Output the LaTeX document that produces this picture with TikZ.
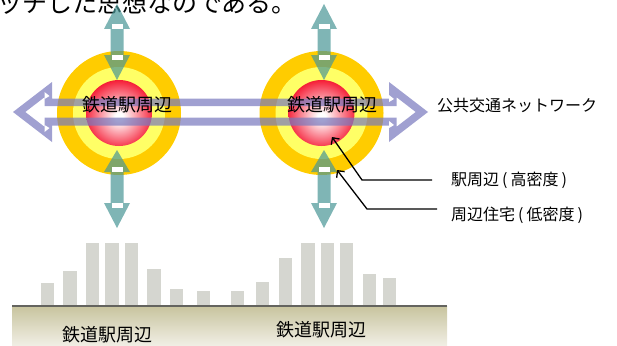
\documentclass[tikz,border=0pt]{standalone}
\usepackage{fontspec}
\newfontfamily\jp{Noto Sans CJK JP}
\usetikzlibrary{arrows.meta}
\definecolor{orangeC}{RGB}{255,204,0}
\definecolor{yellowC}{RGB}{255,255,102}
\definecolor{tealC}{RGB}{73,150,150}
\definecolor{lavC}{RGB}{120,120,189}
\definecolor{barC}{RGB}{213,214,208}
\definecolor{groundTop}{RGB}{200,196,158}
\definecolor{groundBot}{RGB}{240,238,228}
\definecolor{groundLine}{RGB}{100,100,95}
\definecolor{sred}{RGB}{245,25,50}
\definecolor{sredd}{RGB}{225,0,30}
\pgfdeclareradialshading{sphereshade}{\pgfpoint{0bp}{-3bp}}{color(0bp)=(white); color(3bp)=(white); color(27bp)=(sred); color(50bp)=(sredd)}
\newcommand{\myvarrow}[5]{%
  \fill[tealC, fill opacity=0.7] (#1,#2) -- (#1+13,#3) -- (#1+6.5,#3) -- (#1+6.5,#4) -- (#1+13,#4) -- (#1,#5) -- (#1-13,#4) -- (#1-6.5,#4) -- (#1-6.5,#3) -- (#1-13,#3) -- cycle;
  \fill[white] (#1-5.5,#3-5) rectangle (#1+5.5,#3);
  \fill[white] (#1-5.5,#4) rectangle (#1+5.5,#4+5);}
\newcommand{\pl}{\hspace{3pt}(\hspace{3pt}}
\newcommand{\pr}{\hspace{3pt})}
\tikzset{
  ring/.style={circle, inner sep=0, minimum size=#1},
  jlbl/.style={inner sep=0, font=\jp\fontsize{16}{18}\selectfont},
  clbl/.style={inner sep=0, font=\jp\fontsize{18}{20}\selectfont},
  leader/.style={line width=1.3pt, -{Straight Barb[length=5pt,width=10pt]}},
  bar/.style={fill=barC}
}
\begin{document}
\begin{tikzpicture}[x=1pt,y=-1pt]
\useasboundingbox (0,0) rectangle (617,345);
% top text (cut off)
\node[anchor=base west, inner sep=0, font=\jp\fontsize{25}{25}\selectfont] (toptext) at (-3,12.5) {ッチした思想なのである。};
% circles
\node[ring=124pt, fill=orangeC] (o1) at (119,113) {};
\node[ring=92pt, fill=yellowC] (y1) at (119,113) {};
\node[ring=66pt, shading=sphereshade] (s1) at (119,113) {};
\node[ring=124pt, fill=orangeC] (o2) at (321.5,113) {};
\node[ring=92pt, fill=yellowC] (y2) at (321.5,113) {};
\node[ring=66pt, shading=sphereshade] (s2) at (321.5,113) {};
% vertical arrows
\myvarrow{117}{4}{29}{55}{80}
\myvarrow{117}{150}{172}{203}{228}
\myvarrow{324}{4}{29}{55}{80}
\myvarrow{324}{150}{172}{203}{228}
% horizontal hollow double arrow
\fill[lavC, fill opacity=0.7, even odd rule]
  (13,112) -- (52,82) -- (52,98.5) -- (389,98.5) -- (389,82) -- (428,112) -- (389,142) -- (389,125.5) -- (52,125.5) -- (52,142) -- cycle
  (25.3,112) -- (44.5,97.2) -- (44.5,106) -- (396.5,106) -- (396.5,97.2) -- (415.7,112) -- (396.5,126.8) -- (396.5,117.5) -- (44.5,117.5) -- (44.5,126.8) -- cycle;
\fill[white] (44.5,92) -- (44.5,99) -- (49.5,96) -- cycle;
\fill[white] (44.5,125) -- (44.5,132) -- (49.5,128) -- cycle;
\fill[white] (389,95) -- (389,102) -- (394,99) -- cycle;
\fill[white] (389,121) -- (389,128) -- (394,125) -- cycle;
% circle labels
\node[clbl] (cl1) at (127,105) {鉄道駅周辺};
\node[clbl] (cl2) at (332,105) {鉄道駅周辺};
% right labels
\node[jlbl, anchor=west] (net) at (437,105) {公共交通ネットワーク};
\node[jlbl, anchor=west] (l1) at (451,180) {駅周辺\pl 高密度\pr};
\node[jlbl, anchor=west] (l2) at (451,215) {周辺住宅\pl 低密度\pr};
\coordinate (b1) at (362,180);
\coordinate (t1) at (332,137);
\coordinate (b2) at (367,209);
\coordinate (t2) at (337,170);
\draw[leader] ([xshift=-19pt]l1.west) -- (b1) -- (t1);
\draw[leader] ([xshift=-14pt]l2.west |- b2) -- (b2) -- (t2);
% ground
\shade[top color=groundTop, bottom color=groundBot] (12,306) rectangle (447,345);
% bars
\fill[bar] (40.7,282.7) rectangle (54,306);
\fill[bar] (63,270.7) rectangle (77,306);
\fill[bar] (86,242.7) rectangle (99,306);
\fill[bar] (105,242.7) rectangle (119,306);
\fill[bar] (125,242.7) rectangle (138,306);
\fill[bar] (147,268.7) rectangle (161,306);
\fill[bar] (170,289) rectangle (183,306);
\fill[bar] (197,290.7) rectangle (210,306);
\fill[bar] (231,290.7) rectangle (244,306);
\fill[bar] (256,282.3) rectangle (269,306);
\fill[bar] (279,257.7) rectangle (292,306);
\fill[bar] (301,242.7) rectangle (315,306);
\fill[bar] (321,242.7) rectangle (334,306);
\fill[bar] (340,242.7) rectangle (353,306);
\fill[bar] (363,273.7) rectangle (376,306);
\fill[bar] (383,278.3) rectangle (396,306);
\draw[groundLine, line width=1.5pt] (12,306) -- (447,306);
\node[clbl] (g1) at (107.5,335) {鉄道駅周辺};
\node[clbl] (g2) at (321,330) {鉄道駅周辺};
\end{tikzpicture}
\end{document}
